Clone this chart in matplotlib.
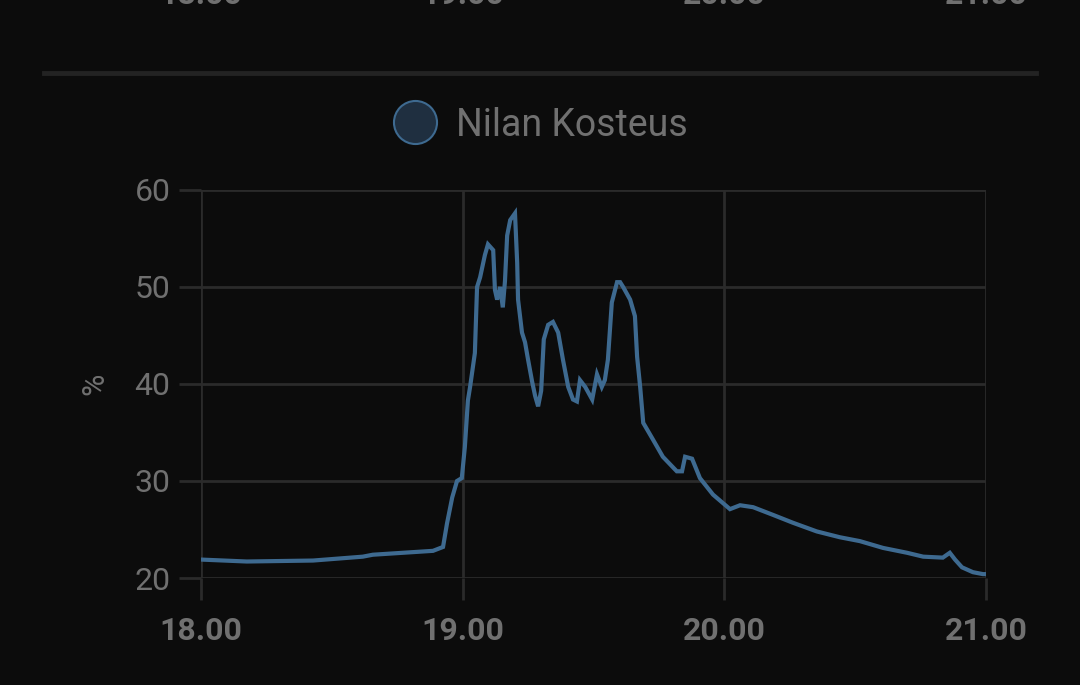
import matplotlib
matplotlib.use("Agg")
import matplotlib.pyplot as plt
from matplotlib.lines import Line2D

# ----------------------------------------
#  Data (minutes after 18:00, humidity %)
# ----------------------------------------
MINUTES = [0, 10.5, 25.7, 37.1, 39.4, 53.2, 55.5, 56.4, 57.6, 58.7, 59.8, 60.5,
           61.2, 61.7, 62.8, 63.3, 64.0, 65.1, 65.8, 67.0, 67.4, 67.9, 68.6,
           69.2, 69.7, 70.2, 70.9, 72.0, 72.5, 72.7, 73.6, 74.3, 75.0, 75.9,
           76.6, 77.3, 78.0, 78.6, 79.6, 80.7, 81.9, 83.0, 84.2, 85.3, 86.2,
           86.9, 88.1, 89.7, 90.8, 91.9, 92.6, 93.3, 94.2, 95.4, 96.1, 96.8,
           98.4, 99.5, 100.0, 100.7, 101.4, 103.6, 105.9, 109.1, 110.3, 111.0,
           112.6, 114.4, 117.4, 121.3, 123.6, 126.6, 131.2, 135.7, 141.2,
           146.5, 151.1, 156.4, 161.9, 165.6, 170.1, 171.7, 172.9, 174.5,
           177.0, 179.3, 180]
HUMIDITY = [21.9, 21.7, 21.8, 22.2, 22.4, 22.8, 23.2, 25.6, 28.3, 30.0, 30.3, 33.5,
            38.3, 39.7, 43.2, 50.0, 51.0, 53.3, 54.4, 53.8, 49.7, 48.7, 50.0,
            47.9, 50.6, 55.3, 56.9, 57.6, 52.5, 48.7, 45.3, 44.3, 42.5, 40.3,
            38.8, 37.7, 39.3, 44.6, 46.1, 46.4, 45.3, 42.5, 39.7, 38.4, 38.2,
            40.4, 39.7, 38.4, 41.0, 39.7, 40.4, 42.5, 48.4, 50.5, 50.5, 50.0,
            48.7, 47.0, 42.8, 39.7, 36.0, 34.3, 32.5, 31.0, 31.0, 32.5,
            32.3, 30.3, 28.6, 27.1, 27.5, 27.3, 26.5, 25.7, 24.8,
            24.2, 23.8, 23.1, 22.6, 22.2, 22.1, 22.6, 21.9, 21.1,
            20.6, 20.4, 20.4]

X_TICKS = [0, 60, 120, 180]
X_LABELS = ["18.00", "19.00", "20.00", "21.00"]
Y_TICKS = [20, 30, 40, 50, 60]
SERIES_NAME = "Nilan Kosteus"

# ----------------------------------------
#  Style
# ----------------------------------------
BG = "#0c0c0c"
GRID = "#2b2b2b"
TEXT = "#707070"
LINE = "#3e6a90"
FILL = "#1f2f40"

plt.rcParams["font.family"] = ["Roboto", "DejaVu Sans"]

fig = plt.figure(figsize=(10.8, 6.85), dpi=100, facecolor=BG)
ax = fig.add_axes([201 / 1080, 1 - 578 / 685, 785 / 1080, 388 / 685])
ax.set_facecolor(BG)

ax.plot(MINUTES, HUMIDITY, color=LINE, linewidth=3, solid_joinstyle="miter")

ax.set_xlim(0, 180)
ax.set_ylim(20, 60)
ax.set_xticks(X_TICKS)
ax.set_xticklabels(X_LABELS, fontweight="bold")
ax.set_yticks(Y_TICKS)
ax.grid(True, color=GRID, linewidth=2)
for s in ax.spines.values():
    s.set_visible(False)
ax.tick_params(axis="both", colors=GRID, labelcolor=TEXT, width=2,
               length=16, labelsize=23)
ax.tick_params(axis="x", pad=11)
ax.tick_params(axis="y", pad=6)
ax.set_ylabel("%", color=TEXT, fontsize=22, labelpad=18)

# legend
handle = Line2D([], [], marker="o", linestyle="none", markersize=31,
                markerfacecolor=FILL, markeredgecolor=LINE, markeredgewidth=1.5)
ax.legend([handle], [SERIES_NAME], loc="center",
          bbox_to_anchor=(533 / 1080, 1 - 125 / 685),
          bbox_transform=fig.transFigure, frameon=False,
          fontsize=27, labelcolor=TEXT, handletextpad=0.1, borderpad=0)

# separator from the chart above
fig.add_artist(Line2D([44 / 1080, 1036 / 1080], [1 - 73 / 685, 1 - 73 / 685],
                      color="#232323", linewidth=3.5, transform=fig.transFigure))

# cut-off tick labels of the chart above
for xt, lab in zip(X_TICKS, X_LABELS):
    xf = (201 + xt / 180 * 785) / 1080
    fig.text(xf, 1 - 10 / 685, lab, ha="center", va="bottom", color=TEXT,
             fontsize=23, fontweight="bold")

fig.savefig("out.png", dpi=100, facecolor=BG)
